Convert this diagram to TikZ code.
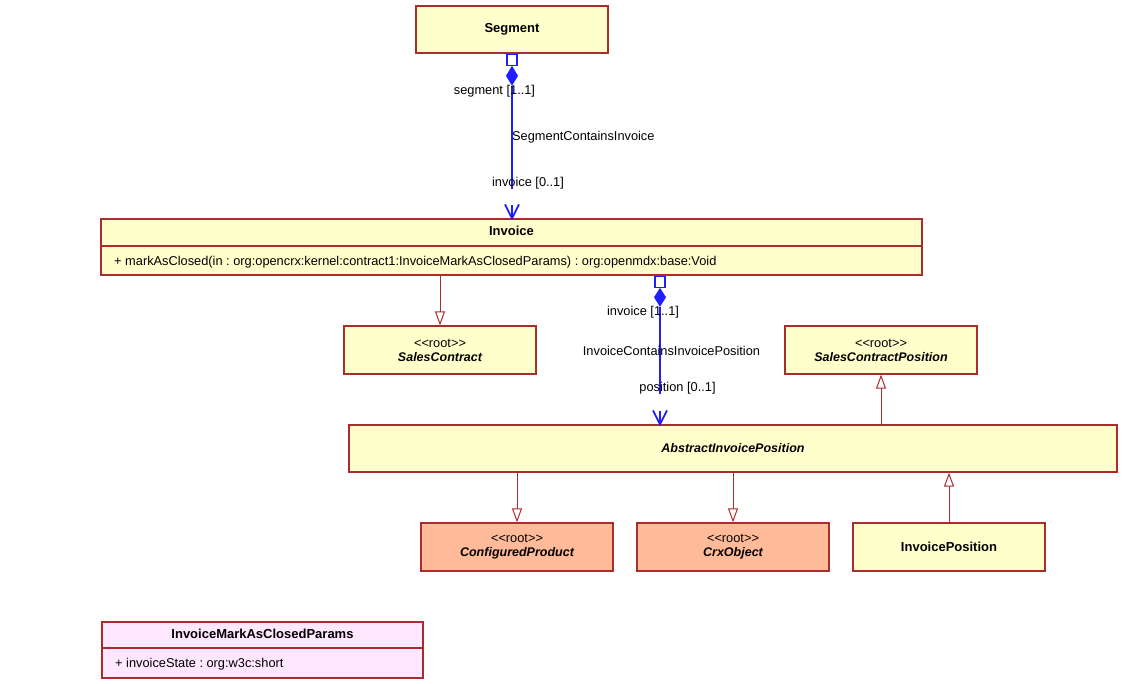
\documentclass[tikz,border=0pt]{standalone}
\usepackage{fontspec}
\setmainfont{Liberation Sans}
\usetikzlibrary{arrows.meta,calc}
\definecolor{umlborder}{RGB}{170,45,45}
\definecolor{clsyellow}{RGB}{255,255,204}
\definecolor{clssalmon}{RGB}{255,187,153}
\definecolor{clspink}{RGB}{255,232,255}
\definecolor{assocblue}{RGB}{30,30,255}
\newcommand\stereo[1]{<\kern0pt<#1>\kern0pt>}
\newcommand\rmtxt{\fontsize{12.8}{14}\selectfont}
\newcommand\bftxt{\fontsize{13}{14}\selectfont\bfseries}
\newcommand\bitxt{\fontsize{12.5}{14}\selectfont\bfseries\itshape}
\frenchspacing
\begin{document}
\frenchspacing
\begin{tikzpicture}[x=1pt,y=-1pt,
  font=\rmtxt,
  cls/.style={draw=umlborder, line width=1.2pt, fill=clsyellow, inner sep=0pt, align=center},
  rootcls/.style={cls, fill=clssalmon},
  paramcls/.style={cls, fill=clspink},
  gen/.style={draw=umlborder, line width=1pt, -{Triangle[open,length=14pt,width=10pt,fill=white]}},
  assoc/.style={draw=assocblue, line width=1.4pt},
  sqmark/.style={draw=assocblue, fill=white, line width=1.2pt, minimum width=10pt, minimum height=11pt, inner sep=0pt},
  lbl/.style={inner sep=0pt}]
\useasboundingbox (0,0) rectangle (1123,684);

% classes
\node[cls, minimum width=192pt, minimum height=47pt] (segment) at (512,29.5) {\bftxt Segment};
\node[cls, minimum width=821pt, minimum height=56pt] (invoice) at (511.5,247) {};
\draw[umlborder, line width=1.2pt] (invoice.west |- 0,246) -- (invoice.east |- 0,246);
\node[lbl] (invtitle) at (511.5,230.5) {\bftxt Invoice};
\node[lbl, anchor=west] (invop) at (114,262) {+ markAsClosed(in : org:opencrx:kernel:contract1:InvoiceMarkAsClosedParams) : org:openmdx:base:Void};

\node[cls, minimum width=192pt, minimum height=48pt] (salescontract) at (440,350) {\stereo{root}\\ \bitxt SalesContract};
\node[cls, minimum width=192pt, minimum height=48pt] (scp) at (881,350) {\stereo{root}\\ \bitxt SalesContractPosition};
\node[cls, minimum width=768pt, minimum height=47pt] (abstract) at (733,448.5) {\bitxt AbstractInvoicePosition};
\node[rootcls, minimum width=192pt, minimum height=48pt] (cfg) at (517,547) {\stereo{root}\\ \bitxt ConfiguredProduct};
\node[rootcls, minimum width=192pt, minimum height=48pt] (crx) at (733,547) {\stereo{root}\\ \bitxt CrxObject};
\node[cls, minimum width=192pt, minimum height=48pt] (invpos) at (949,547) {\bftxt InvoicePosition};

\node[paramcls, minimum width=321pt, minimum height=56pt] (params) at (262.5,650) {};
\draw[umlborder, line width=1.2pt] (params.west |- 0,648) -- (params.east |- 0,648);
\node[lbl] (paramstitle) at (262.5,634) {\bftxt InvoiceMarkAsClosedParams};
\node[lbl, anchor=west] (paramsattr) at (115,664) {+ invoiceState : org:w3c:short};

% generalizations
\draw[gen] (salescontract.north |- invoice.south) -- (salescontract.north);
\draw[gen] (scp.south |- abstract.north) -- (scp.south);
\draw[gen] (cfg.north |- abstract.south) -- (cfg.north);
\draw[gen] (crx.north |- abstract.south) -- (crx.north);
\draw[gen] (invpos.north) -- (invpos.north |- abstract.south);

% composition Segment -> Invoice
\node[sqmark, anchor=north] (sq1) at (segment.south) {};
\fill[assocblue] (sq1.south) -- ++(6,10) -- ++(-6,10) -- ++(-6,-10) -- cycle;
\coordinate (d1) at ($(sq1.south)+(0,20)$);
\coordinate (e1) at ($(segment.south |- invoice.north)+(0,-29)$);
\draw[assoc] (d1) -- (e1);
\coordinate (t1) at (segment.south |- invoice.north);
\draw[assoc, line width=1.8pt, line join=miter] ($(t1)+(-7,-14)$) -- (t1) -- ++(7,-14);
\draw[assoc] (t1) -- ++(0,-13);

% composition Invoice -> AbstractInvoicePosition
\node[sqmark, anchor=north] (sq2) at ([xshift=148.5pt]invoice.south) {};
\fill[assocblue] (sq2.south) -- ++(6,9.5) -- ++(-6,9.5) -- ++(-6,-9.5) -- cycle;
\coordinate (d2) at ($(sq2.south)+(0,19)$);
\coordinate (e2) at ($(sq2.south |- abstract.north)+(0,-30)$);
\draw[assoc] (d2) -- (e2);
\coordinate (t2) at (sq2.south |- abstract.north);
\draw[assoc, line width=1.8pt, line join=miter] ($(t2)+(-7,-14)$) -- (t2) -- ++(7,-14);
\draw[assoc] (t2) -- ++(0,-13);

% association labels
\node[lbl] (l1) at (494.5,91) {segment [1..1]};
\node[lbl, anchor=west] (l2) at (512,137) {SegmentContainsInvoice};
\node[lbl] (l3) at (528,183) {invoice [0..1]};
\node[lbl] (l4) at (643,312.5) {invoice [1..1]};
\node[lbl] (l5) at (671.5,350.5) {InvoiceContainsInvoicePosition};
\node[lbl] (l6) at (677.5,388.5) {position [0..1]};
\end{tikzpicture}
\end{document}
